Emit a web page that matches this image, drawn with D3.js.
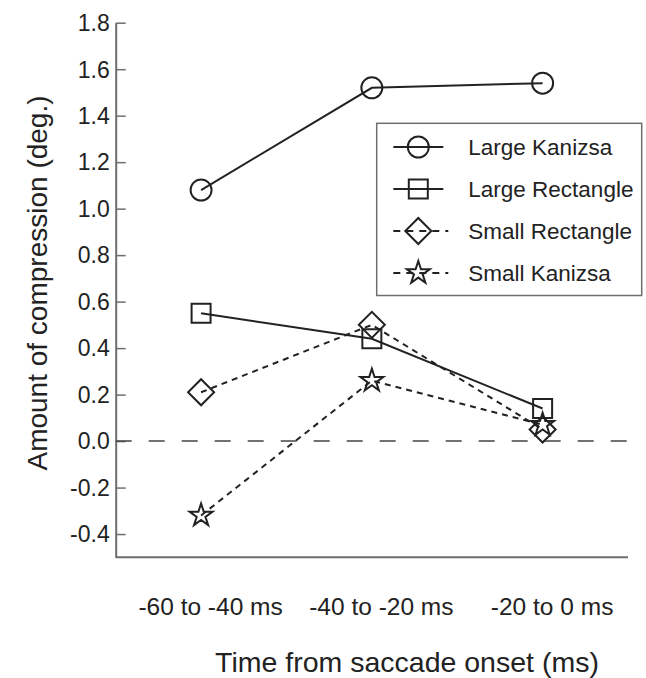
<!DOCTYPE html>
<html>
<head>
<meta charset="utf-8">
<script src="https://cdn.jsdelivr.net/npm/d3@7"></script>
<style>
  html, body { margin: 0; padding: 0; background: #fff; }
  svg { display: block; font-family: "Liberation Sans", Arial, Helvetica, sans-serif; }
</style>
</head>
<body>
<svg id="chart" width="646" height="678"></svg>
<script>
const categories = ['-60 to -40 ms', '-40 to -20 ms', '-20 to 0 ms'];
const largeKanizsa = [1.08, 1.52, 1.54];
const largeRectangle = [0.55, 0.44, 0.14];
const smallRectangle = [0.21, 0.50, 0.05];
const smallKanizsa = [-0.32, 0.26, 0.07];
const yTicks = [-0.4, -0.2, 0.0, 0.2, 0.4, 0.6, 0.8, 1.0, 1.2, 1.4, 1.6, 1.8];
const seriesNames = ['Large Kanizsa', 'Large Rectangle', 'Small Rectangle', 'Small Kanizsa'];

const series = [
  { name: seriesNames[0], values: largeKanizsa, symbol: d3.symbolCircle, size: 346, rotate: 0, dashed: false },
  { name: seriesNames[1], values: largeRectangle, symbol: d3.symbolSquare, size: 361, rotate: 0, dashed: false },
  { name: seriesNames[2], values: smallRectangle, symbol: d3.symbolSquare, size: 338, rotate: 45, dashed: true },
  { name: seriesNames[3], values: smallKanizsa, symbol: d3.symbolStar, size: 162, rotate: 0, dashed: true }
];

const svg = d3.select('#chart');
const ink = '#222';
const axisColor = '#6e6e6e';

const plot = { left: 115.7, right: 628, top: 22.7, bottom: 557.3 };

const x = d3.scalePoint()
  .domain(categories)
  .range([plot.left, plot.right])
  .padding(0.5);

const y = d3.scaleLinear()
  .domain([-0.5, 1.8])
  .range([plot.bottom, plot.top]);

// y axis, ticks pointing inward
const yAxis = svg.append('g')
  .attr('transform', `translate(${plot.left},0)`)
  .call(d3.axisLeft(y)
    .tickValues(yTicks)
    .tickSizeInner(-10)
    .tickSizeOuter(0)
    .tickPadding(6)
    .tickFormat(d => d.toFixed(1)));
yAxis.select('.domain').attr('stroke', axisColor).attr('stroke-width', 2);
yAxis.selectAll('.tick line').attr('stroke', axisColor).attr('stroke-width', 1.5);
yAxis.selectAll('.tick text')
  .attr('fill', ink)
  .attr('font-size', 23)
  .attr('dy', '0.34em');

// x axis: plain line with labels below
const xAxis = svg.append('g')
  .attr('transform', `translate(0,${plot.bottom})`)
  .call(d3.axisBottom(x).tickSize(0).tickPadding(40));
xAxis.select('.domain').remove();
xAxis.append('line')
  .attr('x1', plot.left).attr('x2', plot.right)
  .attr('stroke', axisColor).attr('stroke-width', 2);
xAxis.selectAll('.tick text')
  .attr('fill', ink)
  .attr('font-size', 24.5)
  .attr('dy', '0.71em')
  .attr('transform', 'translate(9,0)');

// zero reference line
svg.append('line')
  .attr('x1', plot.left).attr('x2', plot.right)
  .attr('y1', y(0)).attr('y2', y(0))
  .attr('stroke', '#444')
  .attr('stroke-width', 1.5)
  .attr('stroke-dasharray', '16,17');

// axis titles
svg.append('text')
  .attr('transform', `translate(47,283) rotate(-90)`)
  .attr('text-anchor', 'middle')
  .attr('font-size', 28)
  .attr('fill', ink)
  .text('Amount of compression (deg.)');

svg.append('text')
  .attr('x', 407)
  .attr('y', 672)
  .attr('text-anchor', 'middle')
  .attr('font-size', 28.5)
  .attr('fill', ink)
  .text('Time from saccade onset (ms)');

// lines
const line = d3.line()
  .x((d, i) => x(categories[i]))
  .y(d => y(d));

svg.selectAll('.series-line')
  .data(series)
  .enter().append('path')
  .attr('class', 'series-line')
  .attr('d', d => line(d.values))
  .attr('fill', 'none')
  .attr('stroke', ink)
  .attr('stroke-width', 2)
  .attr('stroke-dasharray', d => d.dashed ? '6,5' : null);

// markers
series.forEach(s => {
  svg.selectAll(null)
    .data(s.values)
    .enter().append('path')
    .attr('d', d3.symbol().type(s.symbol).size(s.size))
    .attr('transform', (d, i) => `translate(${x(categories[i])},${y(d)}) rotate(${s.rotate})`)
    .attr('fill', 'none')
    .attr('stroke', ink)
    .attr('stroke-width', 2);
});

// legend
const legend = svg.append('g');
legend.append('rect')
  .attr('x', 376.7).attr('y', 123.3)
  .attr('width', 265).attr('height', 172.2)
  .attr('fill', '#fff')
  .attr('stroke', axisColor)
  .attr('stroke-width', 1.5);

const rows = legend.selectAll('.row')
  .data(series)
  .enter().append('g')
  .attr('class', 'row')
  .attr('transform', (d, i) => `translate(418.3,${147 + i * 42})`);

rows.append('line')
  .attr('x1', -25)
  .attr('x2', d => d.dashed ? 30 : 25)
  .attr('stroke', ink)
  .attr('stroke-width', 2)
  .attr('stroke-dasharray', d => d.dashed ? '7,6' : null);

rows.append('path')
  .attr('d', d => d3.symbol().type(d.symbol).size(d.size)())
  .attr('transform', d => `rotate(${d.rotate})`)
  .attr('fill', 'none')
  .attr('stroke', ink)
  .attr('stroke-width', 2);

rows.append('text')
  .attr('x', 50)
  .attr('y', 8)
  .attr('font-size', 22.5)
  .attr('fill', ink)
  .text(d => d.name);
</script>
</body>
</html>
